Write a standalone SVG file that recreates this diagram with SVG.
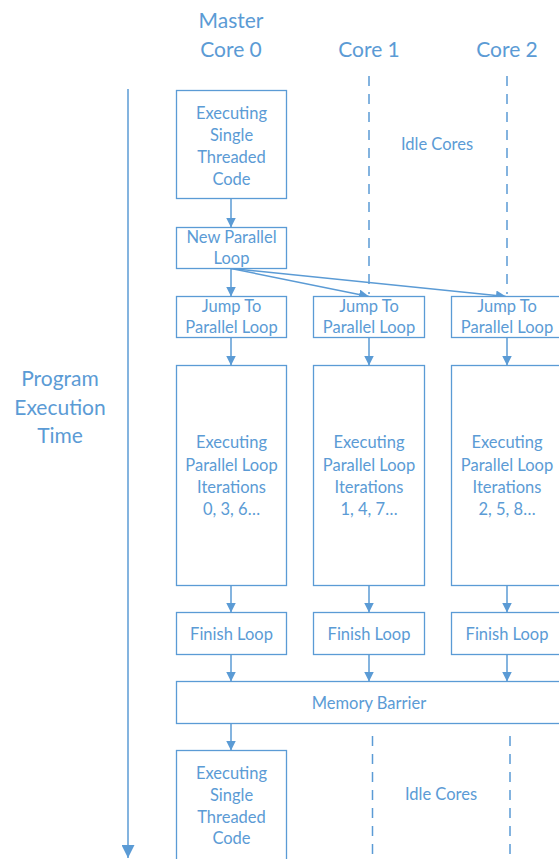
<svg xmlns="http://www.w3.org/2000/svg" width="559" height="859" viewBox="0 0 559 859">
  <style>
    text { font-family: Lato, "Open Sans", "Liberation Sans", sans-serif; fill: #5b9bd5; text-anchor: middle; }
    .head { font-size: 21px; }
    .lbl { font-size: 16.5px; }
    .box { fill: #ffffff; stroke: #5b9bd5; stroke-width: 1.3; }
    .link { fill: none; stroke: #5b9bd5; stroke-width: 1.5; }
    .lane { fill: none; stroke: #5b9bd5; stroke-width: 1.5; stroke-dasharray: 10 8; }
  </style>
  <defs>
    <marker id="tip" viewBox="0 0 10 10" refX="10" refY="5" markerWidth="10" markerHeight="10" orient="auto" markerUnits="userSpaceOnUse">
      <path d="M0,0 L10,5 L0,10 z" fill="#5b9bd5"/>
    </marker>
    <marker id="tipBig" viewBox="0 0 10 10" refX="10" refY="5" markerWidth="13" markerHeight="13" orient="auto" markerUnits="userSpaceOnUse">
      <path d="M0,0 L10,5 L0,10 z" fill="#5b9bd5"/>
    </marker>
  </defs>

  <rect width="559" height="859" fill="#ffffff"/>

  <!-- column headings -->
  <g id="headings">
    <text class="head" x="231" y="28">Master</text>
    <text class="head" x="231" y="57">Core 0</text>
    <text class="head" x="369" y="57">Core 1</text>
    <text class="head" x="507" y="57">Core 2</text>
  </g>

  <!-- time axis -->
  <g id="time-axis">
    <text class="head" x="60" y="386">Program</text>
    <text class="head" x="60" y="415">Execution</text>
    <text class="head" x="60" y="443">Time</text>
  </g>

  <!-- connectors and idle lanes -->
  <g id="connectors">
    <line class="link" x1="128" y1="89" x2="128" y2="858" stroke-width="2" marker-end="url(#tipBig)"/>
    <line class="lane" x1="369" y1="76" x2="369" y2="294"/>
    <line class="lane" x1="507" y1="76" x2="507" y2="294"/>
    <line class="lane" x1="372.5" y1="736" x2="372.5" y2="859"/>
    <line class="lane" x1="510" y1="736" x2="510" y2="859"/>

    <line class="link" x1="231" y1="198.5" x2="231" y2="227.5" marker-end="url(#tip)"/>
    <line class="link" x1="231" y1="268.5" x2="231" y2="296.5" marker-end="url(#tip)"/>
    <line class="link" x1="231" y1="268.5" x2="369" y2="296.5" marker-end="url(#tip)"/>
    <line class="link" x1="231" y1="268.5" x2="506" y2="296.5" marker-end="url(#tip)"/>

    <line class="link" x1="231" y1="337.5" x2="231" y2="365.5" marker-end="url(#tip)"/>
    <line class="link" x1="369" y1="337.5" x2="369" y2="365.5" marker-end="url(#tip)"/>
    <line class="link" x1="507" y1="337.5" x2="507" y2="365.5" marker-end="url(#tip)"/>

    <line class="link" x1="231" y1="585.5" x2="231" y2="612.5" marker-end="url(#tip)"/>
    <line class="link" x1="369" y1="585.5" x2="369" y2="612.5" marker-end="url(#tip)"/>
    <line class="link" x1="507" y1="585.5" x2="507" y2="612.5" marker-end="url(#tip)"/>

    <line class="link" x1="231" y1="654.5" x2="231" y2="681.5" marker-end="url(#tip)"/>
    <line class="link" x1="369" y1="654.5" x2="369" y2="681.5" marker-end="url(#tip)"/>
    <line class="link" x1="507" y1="654.5" x2="507" y2="681.5" marker-end="url(#tip)"/>

    <line class="link" x1="231" y1="723.5" x2="231" y2="750.5" marker-end="url(#tip)"/>
  </g>

  <g id="idle-top">
    <text class="lbl" x="437" y="150">Idle Cores</text>
  </g>
  <g id="idle-bottom">
    <text class="lbl" x="441" y="800">Idle Cores</text>
  </g>

  <g id="single-thread-1">
    <rect class="box" x="176.5" y="90.5" width="110" height="108"/>
    <text class="lbl" x="231.5" y="119">Executing</text>
    <text class="lbl" x="231.5" y="141">Single</text>
    <text class="lbl" x="231.5" y="163">Threaded</text>
    <text class="lbl" x="231.5" y="185">Code</text>
  </g>

  <g id="new-parallel-loop">
    <rect class="box" x="176.5" y="227.5" width="110" height="41"/>
    <text class="lbl" x="231.5" y="243">New Parallel</text>
    <text class="lbl" x="231.5" y="264">Loop</text>
  </g>

  <g id="jump-0">
    <rect class="box" x="176.5" y="296.5" width="110" height="41"/>
    <text class="lbl" x="231.5" y="312">Jump To</text>
    <text class="lbl" x="231.5" y="333">Parallel Loop</text>
  </g>
  <g id="jump-1">
    <rect class="box" x="313.5" y="296.5" width="111" height="41"/>
    <text class="lbl" x="369" y="312">Jump To</text>
    <text class="lbl" x="369" y="333">Parallel Loop</text>
  </g>
  <g id="jump-2">
    <rect class="box" x="451.5" y="296.5" width="111" height="41"/>
    <text class="lbl" x="507" y="312">Jump To</text>
    <text class="lbl" x="507" y="333">Parallel Loop</text>
  </g>

  <g id="iterations-0">
    <rect class="box" x="176.5" y="365.5" width="110" height="220"/>
    <text class="lbl" x="231.5" y="448">Executing</text>
    <text class="lbl" x="231.5" y="471">Parallel Loop</text>
    <text class="lbl" x="231.5" y="493">Iterations</text>
    <text class="lbl" x="231.5" y="515">0, 3, 6…</text>
  </g>
  <g id="iterations-1">
    <rect class="box" x="313.5" y="365.5" width="111" height="220"/>
    <text class="lbl" x="369" y="448">Executing</text>
    <text class="lbl" x="369" y="471">Parallel Loop</text>
    <text class="lbl" x="369" y="493">Iterations</text>
    <text class="lbl" x="369" y="515">1, 4, 7…</text>
  </g>
  <g id="iterations-2">
    <rect class="box" x="451.5" y="365.5" width="111" height="220"/>
    <text class="lbl" x="507" y="448">Executing</text>
    <text class="lbl" x="507" y="471">Parallel Loop</text>
    <text class="lbl" x="507" y="493">Iterations</text>
    <text class="lbl" x="507" y="515">2, 5, 8…</text>
  </g>

  <g id="finish-0">
    <rect class="box" x="176.5" y="612.5" width="110" height="42"/>
    <text class="lbl" x="231.5" y="640">Finish Loop</text>
  </g>
  <g id="finish-1">
    <rect class="box" x="313.5" y="612.5" width="111" height="42"/>
    <text class="lbl" x="369" y="640">Finish Loop</text>
  </g>
  <g id="finish-2">
    <rect class="box" x="451.5" y="612.5" width="111" height="42"/>
    <text class="lbl" x="507" y="640">Finish Loop</text>
  </g>

  <g id="memory-barrier">
    <rect class="box" x="176.5" y="681.5" width="386" height="42"/>
    <text class="lbl" x="369" y="709">Memory Barrier</text>
  </g>

  <g id="single-thread-2">
    <rect class="box" x="176.5" y="750.5" width="110" height="120"/>
    <text class="lbl" x="231.5" y="779">Executing</text>
    <text class="lbl" x="231.5" y="801">Single</text>
    <text class="lbl" x="231.5" y="823">Threaded</text>
    <text class="lbl" x="231.5" y="844">Code</text>
  </g>
</svg>
